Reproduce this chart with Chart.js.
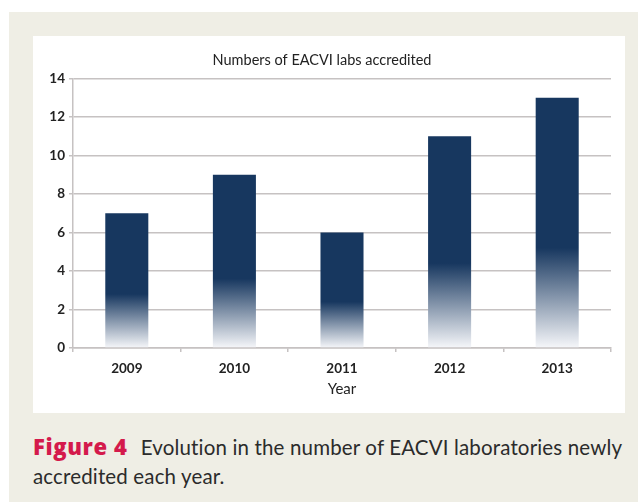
<!DOCTYPE html>
<html>
<head>
<meta charset="utf-8">
<script src="https://cdn.jsdelivr.net/npm/chart.js@4/dist/chart.umd.min.js"></script>
<style>
  html, body { margin: 0; padding: 0; background: #fff; }
  body { width: 638px; height: 502px; position: relative; overflow: hidden; }
  #frame { position: absolute; left: 9px; top: 12px; right: 0; bottom: 0; background: #efeee5; }
  #panel { position: absolute; left: 33px; top: 36px; width: 592px; height: 377px; background: #fff; }
  #caption {
    position: absolute; left: 33px; top: 432px; width: 605px;
    font-family: Lato, "Open Sans", sans-serif; font-size: 20.5px; letter-spacing: 0.15px;
    line-height: 29px; color: #2b2b2b;
  }
  #caption b {
    color: #d41a4c; font-family: "Open Sans", sans-serif; font-weight: 800;
    font-size: 22px; letter-spacing: 0.6px; margin-right: 8px;
  }
</style>
</head>
<body>
<div id="frame"></div>
<div id="panel"><canvas id="chart" width="592" height="377"></canvas></div>
<div id="caption"><b>Figure 4</b> Evolution in the number of EACVI laboratories newly accredited each year.</div>
<script>
const years = ['2009', '2010', '2011', '2012', '2013'];
const labsAccredited = [7, 9, 6, 11, 13];

const NAVY = '#17375f';
const GRID = '#c6c2c2';
const TEXT = '#222';

// fade each bar to white over its lower part
function barFill(ctx) {
    const chart = ctx.chart;
    if (!chart.chartArea) return NAVY;
    const y = chart.scales.y;
    const base = y.getPixelForValue(0);
    const top = y.getPixelForValue(ctx.raw);
    const g = chart.ctx.createLinearGradient(0, base, 0, top);
    g.addColorStop(0, '#f6f7fa');
    g.addColorStop(0.4, NAVY);
    g.addColorStop(1, NAVY);
    return g;
}

new Chart(document.getElementById('chart'), {
    type: 'bar',
    data: {
        labels: years,
        datasets: [{
            label: 'Numbers of EACVI labs accredited',
            data: labsAccredited,
            backgroundColor: barFill,
            borderWidth: 0,
            barPercentage: 0.4,
            categoryPercentage: 1
        }]
    },
    options: {
        responsive: false,
        animation: false,
        devicePixelRatio: 1,
        layout: { padding: { left: 0, right: 14, top: 0, bottom: 0 } },
        plugins: {
            legend: { display: false },
            tooltip: { enabled: false },
            title: {
                display: true,
                text: 'Numbers of EACVI labs accredited',
                color: TEXT,
                font: { family: 'Lato', size: 14.5, weight: 'normal' },
                padding: { top: 16, bottom: 9 }
            }
        },
        scales: {
            x: {
                afterFit: s => { s.height = 65; },
                grid: { drawOnChartArea: false, drawTicks: true, tickLength: 4, color: GRID, lineWidth: 1.5 },
                border: { color: GRID, width: 1.5 },
                ticks: { color: TEXT, padding: 9, font: { family: 'Lato', size: 13.5, weight: 'bold' } },
                title: {
                    display: true,
                    text: 'Year',
                    color: TEXT,
                    font: { family: 'Lato', size: 15 },
                    padding: { top: 0, bottom: 15 }
                }
            },
            y: {
                min: 0,
                max: 14,
                afterFit: s => { s.width = 40; },
                grid: { color: GRID, lineWidth: 1.5, tickLength: 4 },
                border: { color: GRID, width: 1.5 },
                ticks: { stepSize: 2, color: TEXT, padding: 4, font: { family: 'Lato', size: 13.5, weight: 'bold' } }
            }
        }
    }
});
</script>
</body>
</html>
